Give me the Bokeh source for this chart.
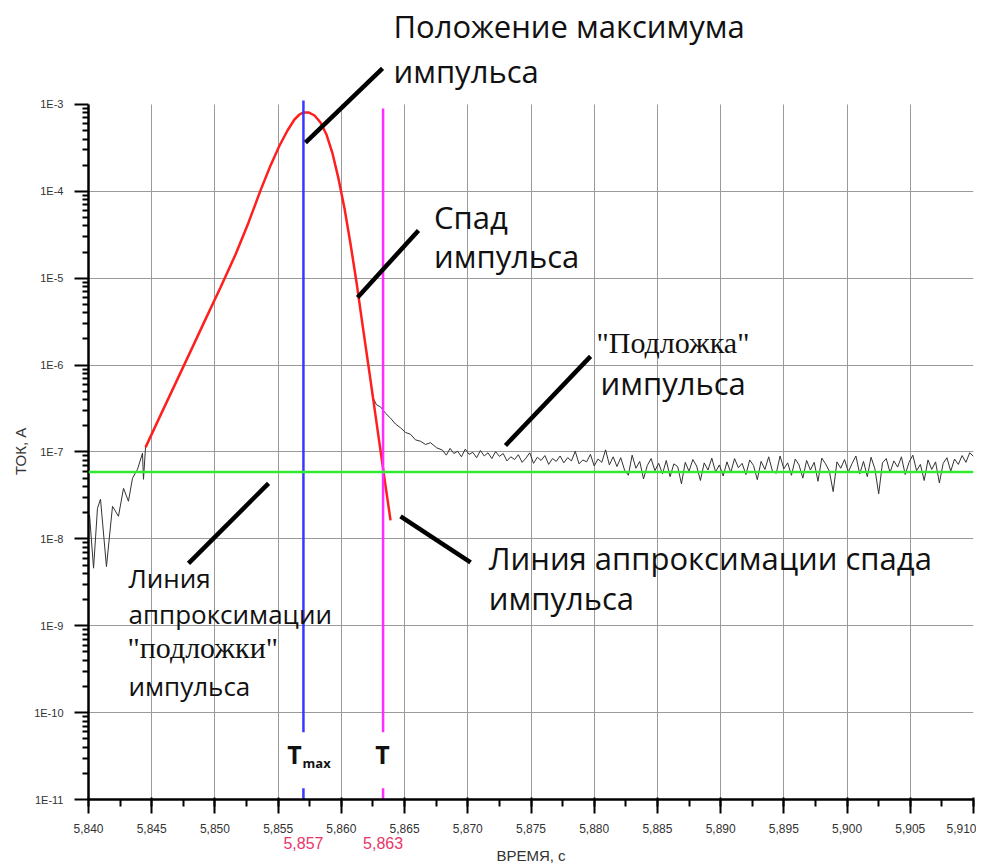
import math
from bokeh.plotting import figure
from bokeh.models import (Range1d, SingleIntervalTicker, FixedTicker, CustomJSTickFormatter,
                          Span, LinearAxis, LogAxis)
from bokeh.core.properties import value
from bokeh.embed import file_html
from bokeh.resources import INLINE

# ------------------------------------------------------------------ data
# measured current: noisy rising edge before the pulse
sig_left_t = [5.84008, 5.84040, 5.84071, 5.84095, 5.84142, 5.84190, 5.84237,
              5.84277, 5.84316, 5.84348, 5.84388, 5.84427, 5.84435, 5.84451]
sig_left_I = [1.9e-8, 4.6e-9, 2.25e-8, 2.86e-8, 4.8e-9, 2.37e-8, 1.82e-8,
              3.82e-8, 2.71e-8, 4.99e-8, 6.34e-8, 9.69e-8, 4.85e-8, 1.13e-7]

# measured current along the pulse itself (hidden under the fit)
sig_pulse_t = [5.84569, 5.84688, 5.84807, 5.84925, 5.85044, 5.85163, 5.85266,
               5.85360, 5.85440, 5.85511, 5.85574, 5.85629, 5.85669, 5.85701,
               5.85740, 5.85788, 5.85835, 5.85882, 5.85930, 5.85977, 5.86025,
               5.86072, 5.86120, 5.86167, 5.86223]
sig_pulse_I = [2.64e-7, 6.16e-7, 1.44e-6, 3.36e-6, 7.84e-6, 1.88e-5, 4.39e-5,
               1.02e-4, 1.99e-4, 3.37e-4, 5.02e-4, 6.72e-4, 7.67e-4, 8.09e-4,
               8.09e-4, 7.47e-4, 6.21e-4, 4.52e-4, 2.73e-4, 1.41e-4, 6.36e-5,
               2.51e-5, 8.95e-6, 2.94e-6, 8.02e-7]

# measured current: slow decay ("подложка")
sig_decay_t = [5.86247, 5.86278, 5.86310, 5.86349, 5.86389, 5.86428, 5.86468,
               5.86507, 5.86547, 5.86586, 5.86626, 5.86666, 5.86705, 5.86753]
sig_decay_I = [4.3e-7, 3.5e-7, 3.3e-7, 2.8e-7, 2.45e-7, 2.1e-7, 1.9e-7,
               1.68e-7, 1.6e-7, 1.38e-7, 1.33e-7, 1.22e-7, 1.28e-7, 1.12e-7]

# measured current: noisy tail, sampled every 0.3 ms from 5.868 s (units of 1E-8 A)
tail_t0 = 5.8680
tail_dt = 0.0003
tail_I_e8 = [10.5, 9.2, 11.0, 9.6, 10.2, 8.8, 10.8, 9.4, 9.9, 8.6, 10.4, 9.0, 9.8, 8.4, 10.1, 8.9,
             9.6, 7.9, 8.8, 8.2, 9.3, 7.6, 8.5, 9.8, 7.4, 8.7, 8.0, 9.1, 7.2, 8.4, 7.8, 9.0,
             7.5, 8.6, 7.9, 10.2, 7.3, 8.1, 7.7, 9.4, 6.9, 8.3, 7.6, 10.6, 7.1, 8.8,
             6.8, 8.6, 6.2, 5.4, 9.2, 6.5, 7.8, 4.9, 7.0, 8.4, 6.1, 7.4, 5.6, 8.0, 5.2,
             7.3, 6.8, 4.3, 7.6, 6.0, 8.2, 6.9, 4.7, 7.5, 6.2, 8.5, 5.9, 7.1, 5.3, 7.7,
             5.8, 8.4, 6.6, 7.4, 5.5, 8.1, 7.0, 4.8, 7.8, 6.3, 8.8, 6.0, 5.7, 9.0, 6.4,
             7.5, 5.4, 8.3, 7.1, 5.0, 8.0, 6.2, 7.6, 4.6, 8.5, 7.3, 6.0, 3.5, 7.7, 6.5,
             8.2, 5.9, 7.4, 9.0, 5.6, 7.8, 5.2, 8.7, 6.4, 3.3, 7.5, 8.4, 5.8, 7.9, 6.7,
             8.8, 5.5, 7.6, 9.2, 6.1, 7.2, 4.7, 8.1, 6.3, 7.7, 4.4, 7.4, 8.6, 6.0, 8.3,
             7.2, 9.1, 7.6, 9.8, 8.9]

# approximation of the pulse (red)
fit_t = [5.84451, 5.84569, 5.84688, 5.84807, 5.84925, 5.85044, 5.85163, 5.85266,
         5.85360, 5.85440, 5.85511, 5.85574, 5.85629, 5.85669, 5.85701, 5.85740,
         5.85788, 5.85835, 5.85882, 5.85930, 5.85977, 5.86025, 5.86072, 5.86120,
         5.86167, 5.86223, 5.86278, 5.86333, 5.86389]
fit_I = [1.13e-7, 2.64e-7, 6.16e-7, 1.44e-6, 3.36e-6, 7.84e-6, 1.88e-5, 4.39e-5,
         1.02e-4, 1.99e-4, 3.37e-4, 5.02e-4, 6.72e-4, 7.67e-4, 8.09e-4, 8.09e-4,
         7.47e-4, 6.21e-4, 4.52e-4, 2.73e-4, 1.41e-4, 6.36e-5, 2.51e-5, 8.95e-6,
         2.94e-6, 8.02e-7, 2.19e-7, 5.98e-8, 1.63e-8]

bg_level = 5.9e-8        # background approximation (green)
t_max = 5.857            # position of the pulse maximum
t_end = 5.8633           # end of the pulse

x_limits = [5.840, 5.910]
y_major = [1e-11, 1e-10, 1e-9, 1e-8, 1e-7, 1e-6, 1e-5, 1e-4, 1e-3]
y_title_at = 1.02e-7

# ------------------------------------------------------------------ assemble signal
tail_t = [tail_t0 + i * tail_dt for i in range(len(tail_I_e8))]
tail_I = [v * 1e-8 for v in tail_I_e8]
sig_t = sig_left_t + sig_pulse_t + sig_decay_t + tail_t
sig_I = sig_left_I + sig_pulse_I + sig_decay_I + tail_I

# ------------------------------------------------------------------ figure
Y_TOP = 10 ** -1.895
p = figure(frame_width=885, frame_height=791,
           x_range=Range1d(x_limits[0], x_limits[1]),
           y_range=Range1d(y_major[0], Y_TOP),
           y_axis_type="log",
           output_backend="svg", toolbar_location=None,
           min_border_left=88, min_border_right=3,
           min_border_top=8, min_border_bottom=0)
p.outline_line_color = None
p.background_fill_color = "white"
p.border_fill_color = "white"

comma_fmt = "return tick.toFixed(3).replace('.', ',');"

# x axis
xa = p.xaxis[0]
xa.ticker = SingleIntervalTicker(interval=0.005, num_minor_ticks=2)
xa.formatter = CustomJSTickFormatter(code=comma_fmt)
xa.axis_line_width = 2.5
xa.axis_line_color = "black"
xa.major_tick_line_width = 2
xa.minor_tick_line_width = 2
xa.major_tick_out = 14
xa.major_tick_in = 2
xa.minor_tick_out = 7
xa.minor_tick_in = 0
xa.major_label_standoff = 10
xa.major_label_text_font = "Liberation Sans"
xa.major_label_text_font_size = "12px"
xa.major_label_text_color = "#333333"

# second x axis: red time marks + axis title
xa2 = LinearAxis(ticker=FixedTicker(ticks=[t_max, t_end]),
                 formatter=CustomJSTickFormatter(code=comma_fmt),
                 axis_line_color=None, major_tick_line_color=None, minor_tick_line_color=None,
                 major_tick_out=0, major_tick_in=0, major_label_standoff=1,
                 major_label_text_font="Liberation Sans", major_label_text_font_size="16px",
                 major_label_text_color="#e8366a",
                 axis_label="ВРЕМЯ, с", axis_label_standoff=-5,
                 axis_label_text_font="Liberation Sans", axis_label_text_font_size="15px",
                 axis_label_text_font_style="normal", axis_label_text_color="#333333")
p.add_layout(xa2, "below")

# y axis
minor_y = [m * d for d in y_major[:-1] for m in range(2, 10)]
ya = p.yaxis[0]
ya.ticker = FixedTicker(ticks=y_major, minor_ticks=minor_y)
ya.formatter = CustomJSTickFormatter(code="return '1E' + Math.round(Math.log10(tick));")
ya.bounds = (y_major[0], y_major[-1])
ya.axis_line_width = 2.5
ya.axis_line_color = "black"
ya.major_tick_line_width = 2
ya.minor_tick_line_width = 2
ya.major_tick_out = 14
ya.major_tick_in = 0
ya.minor_tick_out = 6
ya.minor_tick_in = 0
ya.major_label_standoff = 11
ya.major_label_text_font = "Liberation Sans"
ya.major_label_text_font_size = "11px"
ya.major_label_text_color = "#333333"

# second y axis: carries the rotated title at the axis middle
ya2 = LogAxis(ticker=FixedTicker(ticks=[y_title_at]),
              formatter=CustomJSTickFormatter(code="return 'ТОК, А';"),
              axis_line_color=None, major_tick_line_color=None, minor_tick_line_color=None,
              major_tick_out=0, major_tick_in=0, major_label_standoff=2,
              major_label_orientation="vertical",
              major_label_text_font="Liberation Sans", major_label_text_font_size="15px",
              major_label_text_color="#333333")
p.add_layout(ya2, "left")

# grids
p.xgrid.ticker = SingleIntervalTicker(interval=0.005)
p.xgrid.bounds = (x_limits[0], 5.906)
p.xgrid.cross_bounds = (y_major[0], y_major[-1])
p.xgrid.grid_line_color = "#9a9a9a"
p.xgrid.grid_line_width = 1
p.ygrid.ticker = FixedTicker(ticks=y_major[1:-1])
p.ygrid.grid_line_color = "#9a9a9a"
p.ygrid.grid_line_width = 1

# ------------------------------------------------------------------ data marks
p.line(sig_t, sig_I, line_color="#333333", line_width=1)
p.line(fit_t, fit_I, line_color="#ff1f1f", line_width=2.5)
p.add_layout(Span(location=bg_level, dimension="width", line_color="#30ea30", line_width=2.5))

# vertical markers (broken where the T labels sit)
p.segment(x0=[t_max, t_max], y0=[1.11e-3, 1.35e-11], x1=[t_max, t_max], y1=[5.93e-11, 1e-11],
          line_color="#3838ff", line_width=2.5)
p.segment(x0=[t_end, t_end], y0=[9.0e-4, 1.35e-11], x1=[t_end, t_end], y1=[5.93e-11, 1e-11],
          line_color="#ff2cff", line_width=2.5)

# ------------------------------------------------------------------ annotations
lead_x0 = [5.85716, 5.86128, 5.87298, 5.84791, 5.86468]
lead_y0 = [3.65e-4, 6.01e-6, 1.19e-7, 5.22e-9, 1.82e-8]
lead_x1 = [5.86326, 5.86610, 5.87971, 5.85424, 5.87022]
lead_y1 = [2.60e-3, 3.55e-5, 1.26e-6, 4.35e-8, 5.37e-9]
p.segment(x0=lead_x0, y0=lead_y0, x1=lead_x1, y1=lead_y1,
          line_color="black", line_width=4.5)

big_x = [5.86412, 5.86412, 5.86733, 5.86733, 5.88050, 5.87166, 5.87166]
big_y = [8.10e-3, 2.40e-3, 5.13e-5, 1.82e-5, 6.15e-7, 5.97e-9, 2.06e-9]
big_txt = ["Положение максимума", "импульса", "Спад", "импульса", "импульса",
           "Линия аппроксимации спада", "импульса"]
p.text(x=big_x, y=big_y, text=big_txt, text_font=value("Open Sans"),
       text_font_size="31px", text_color="#111111",
       text_align="left", text_baseline="alphabetic")

p.text(x=[5.88018], y=[1.82e-6], text=['"Подложка"'], text_font=value("Liberation Serif"),
       text_font_size="30px", text_color="#111111",
       text_align="left", text_baseline="alphabetic")

small_x = [5.84316, 5.84316, 5.84316]
small_y = [3.52e-9, 1.36e-9, 2.01e-10]
small_txt = ["Линия", "аппроксимации", "импульса"]
p.text(x=small_x, y=small_y, text=small_txt, text_font=value("Open Sans"),
       text_font_size="26px", text_color="#111111",
       text_align="left", text_baseline="alphabetic")
p.text(x=[5.84308], y=[5.64e-10], text=['"подложки"'], text_font=value("Liberation Serif"),
       text_font_size="30px", text_color="#111111",
       text_align="left", text_baseline="alphabetic")

# T labels
p.text(x=[5.85629, 5.86325], y=[3.31e-11, 3.31e-11], text=["T", "T"],
       text_font=value("Open Sans"), text_font_size="25px", text_font_style="bold",
       text_color="#111111", text_align="center", text_baseline="alphabetic")
p.text(x=[5.85693], y=[2.61e-11], text=["max"],
       text_font=value("Open Sans"), text_font_size="13px", text_font_style="bold",
       text_color="#111111", text_align="left", text_baseline="alphabetic")

open("out.html", "w").write(file_html(p, INLINE))
